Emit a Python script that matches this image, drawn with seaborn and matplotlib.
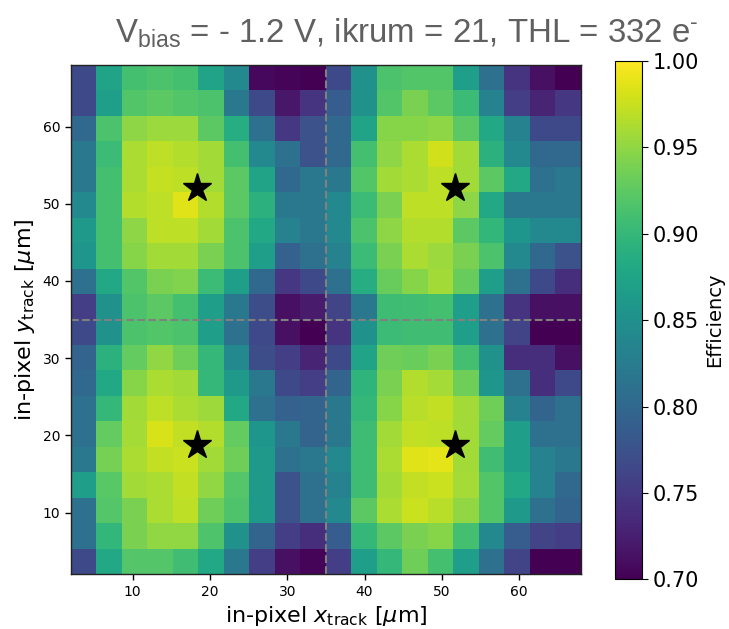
import numpy as np
import matplotlib
matplotlib.use("Agg")
import matplotlib.pyplot as plt
import seaborn as sns

# Bin edges of the in-pixel map (um), 20 x 20 bins.
x_min, x_max = 2.0, 68.0
y_min, y_max = 2.0, 68.0
n_bins = 20
bin_w = (x_max - x_min) / n_bins

# Efficiency per bin, rows listed from top (y = 68) to bottom (y = 2).
eff_rows = [
    [0.766, 0.874, 0.91, 0.915, 0.91, 0.874, 0.841, 0.707, 0.703, 0.70, 0.766, 0.85, 0.915, 0.919, 0.919, 0.867, 0.811, 0.745, 0.712, 0.70],
    [0.766, 0.867, 0.919, 0.924, 0.919, 0.915, 0.82, 0.766, 0.718, 0.745, 0.787, 0.85, 0.919, 0.94, 0.924, 0.904, 0.832, 0.754, 0.73, 0.748],
    [0.80, 0.915, 0.949, 0.955, 0.955, 0.924, 0.886, 0.811, 0.748, 0.775, 0.80, 0.874, 0.945, 0.945, 0.949, 0.924, 0.88, 0.832, 0.766, 0.766],
    [0.82, 0.904, 0.962, 0.97, 0.966, 0.958, 0.91, 0.841, 0.811, 0.775, 0.80, 0.91, 0.949, 0.962, 0.978, 0.958, 0.892, 0.841, 0.80, 0.80],
    [0.82, 0.91, 0.962, 0.974, 0.97, 0.958, 0.924, 0.874, 0.80, 0.82, 0.82, 0.919, 0.958, 0.962, 0.97, 0.958, 0.924, 0.88, 0.811, 0.82],
    [0.841, 0.91, 0.966, 0.97, 0.985, 0.966, 0.924, 0.892, 0.82, 0.82, 0.841, 0.904, 0.94, 0.97, 0.97, 0.949, 0.88, 0.82, 0.82, 0.82],
    [0.862, 0.91, 0.949, 0.97, 0.97, 0.958, 0.915, 0.88, 0.832, 0.82, 0.841, 0.915, 0.949, 0.966, 0.966, 0.924, 0.898, 0.858, 0.841, 0.841],
    [0.858, 0.91, 0.945, 0.958, 0.958, 0.94, 0.915, 0.867, 0.792, 0.811, 0.832, 0.904, 0.94, 0.962, 0.955, 0.94, 0.915, 0.841, 0.80, 0.775],
    [0.811, 0.88, 0.919, 0.94, 0.943, 0.904, 0.867, 0.80, 0.748, 0.766, 0.811, 0.886, 0.93, 0.945, 0.958, 0.93, 0.867, 0.811, 0.766, 0.739],
    [0.754, 0.85, 0.915, 0.924, 0.91, 0.867, 0.82, 0.77, 0.712, 0.722, 0.76, 0.82, 0.907, 0.908, 0.91, 0.867, 0.811, 0.745, 0.712, 0.712],
    [0.766, 0.85, 0.915, 0.919, 0.915, 0.867, 0.811, 0.766, 0.712, 0.70, 0.745, 0.85, 0.904, 0.908, 0.908, 0.867, 0.811, 0.76, 0.70, 0.70],
    [0.796, 0.892, 0.928, 0.95, 0.934, 0.90, 0.841, 0.77, 0.754, 0.73, 0.766, 0.874, 0.934, 0.931, 0.94, 0.91, 0.85, 0.739, 0.739, 0.712],
    [0.80, 0.88, 0.946, 0.962, 0.958, 0.90, 0.862, 0.82, 0.766, 0.754, 0.796, 0.895, 0.94, 0.966, 0.96, 0.934, 0.858, 0.811, 0.739, 0.766],
    [0.811, 0.90, 0.958, 0.97, 0.962, 0.956, 0.88, 0.811, 0.792, 0.796, 0.82, 0.90, 0.945, 0.968, 0.973, 0.958, 0.934, 0.832, 0.796, 0.811],
    [0.811, 0.928, 0.96, 0.982, 0.973, 0.966, 0.928, 0.858, 0.82, 0.796, 0.82, 0.907, 0.958, 0.973, 0.97, 0.958, 0.928, 0.867, 0.811, 0.811],
    [0.82, 0.937, 0.962, 0.973, 0.976, 0.958, 0.934, 0.862, 0.811, 0.82, 0.841, 0.907, 0.962, 0.985, 0.988, 0.958, 0.908, 0.867, 0.832, 0.82],
    [0.867, 0.922, 0.958, 0.962, 0.973, 0.95, 0.92, 0.862, 0.775, 0.811, 0.832, 0.907, 0.958, 0.973, 0.976, 0.96, 0.918, 0.88, 0.832, 0.80],
    [0.811, 0.92, 0.94, 0.962, 0.97, 0.934, 0.916, 0.862, 0.775, 0.811, 0.841, 0.924, 0.962, 0.976, 0.968, 0.95, 0.918, 0.862, 0.811, 0.796],
    [0.811, 0.898, 0.94, 0.95, 0.95, 0.916, 0.85, 0.796, 0.754, 0.739, 0.787, 0.90, 0.924, 0.94, 0.946, 0.91, 0.841, 0.787, 0.76, 0.754],
    [0.766, 0.88, 0.92, 0.92, 0.908, 0.88, 0.82, 0.754, 0.712, 0.703, 0.754, 0.867, 0.90, 0.934, 0.91, 0.867, 0.811, 0.76, 0.70, 0.70],
]

# Pixel boundaries and pixel-centre markers (um).
pixel_edge_x = 35.0
pixel_edge_y = 35.0
star_x = [18.3, 51.7, 18.3, 51.7]
star_y = [52.1, 52.1, 18.7, 18.7]
tick_vals = [10, 20, 30, 40, 50, 60]
cbar_ticks = [0.70, 0.75, 0.80, 0.85, 0.90, 0.95, 1.00]


def x_cell(v):
    # heatmap cells sit at integer positions, convert um to cell units
    return (np.asarray(v) - x_min) / bin_w


def y_cell(v):
    # rows run top-down in sns.heatmap
    return (y_max - np.asarray(v)) / bin_w


eff = np.array(eff_rows)

fig = plt.figure(figsize=(7.29, 6.29), dpi=100)
ax = fig.add_axes([0.097, 0.087, 0.700, 0.810])
cax = fig.add_axes([0.843, 0.079, 0.038, 0.824])

sns.heatmap(eff, ax=ax, cbar_ax=cax, cmap="viridis", vmin=0.70, vmax=1.00,
            square=False, xticklabels=False, yticklabels=False,
            cbar_kws={"ticks": cbar_ticks, "format": "%.2f"})

# Pixel boundaries.
ax.axvline(x_cell(pixel_edge_x), color="gray", ls="--", lw=1.5)
ax.axhline(y_cell(pixel_edge_y), color="gray", ls="--", lw=1.5)

# Pixel centres.
ax.plot(x_cell(star_x), y_cell(star_y), ls="none", marker="*",
        color="black", ms=21)

ax.set_xticks(x_cell(tick_vals))
ax.set_xticklabels([str(t) for t in tick_vals], rotation=0)
ax.set_yticks(y_cell(tick_vals))
ax.set_yticklabels([str(t) for t in tick_vals], rotation=0)
ax.tick_params(labelsize=10, length=4, width=1, color="black")
for s in ax.spines.values():
    s.set_visible(True)
    s.set_linewidth(1.0)
    s.set_color("#222222")

ax.set_xlabel(r"in-pixel $x_{\rm track}$ [$\mu$m]", fontsize=16)
ax.set_ylabel(r"in-pixel $y_{\rm track}$ [$\mu$m]", fontsize=16)

# Title in an Arial-like face; only this text uses the custom math fonts.
plt.rcParams["mathtext.rm"] = "Liberation Sans"
plt.rcParams["mathtext.it"] = "Liberation Sans:italic"
plt.rcParams["mathtext.bf"] = "Liberation Sans:bold"
fig.text(0.5576, 1 - 43 / 629,
         r"V$_{\rm bias}$ = - 1.2 V, ikrum = 21, THL = 332 e$^{\text{-}}$",
         fontsize=23.8, color="#606060", ha="center", va="baseline",
         family="Liberation Sans", math_fontfamily="custom")

cb = ax.collections[0].colorbar
cb.outline.set_visible(True)
cb.outline.set_linewidth(0.8)
cb.ax.tick_params(labelsize=15, length=4)
cb.set_label("Efficiency", fontsize=14)

fig.savefig("out.png", dpi=100)
